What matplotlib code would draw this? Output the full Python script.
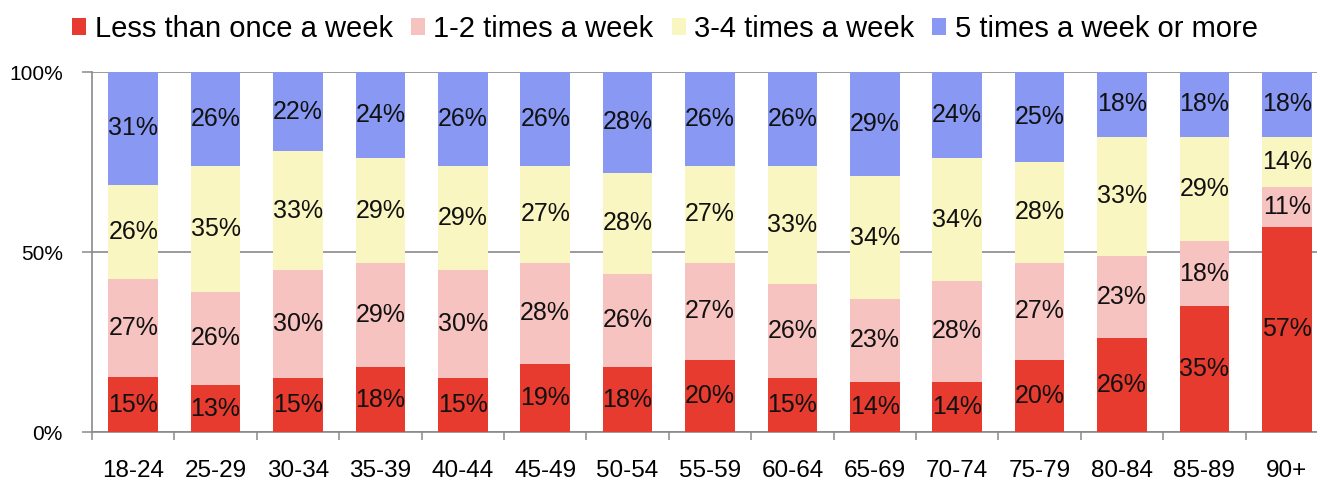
import numpy as np
import matplotlib
matplotlib.use('Agg')
import matplotlib.pyplot as plt
from matplotlib.ticker import FixedLocator

plt.rcParams['font.family'] = ['Liberation Sans', 'DejaVu Sans']

# Age bands and share of respondents in each frequency group (%).
age_groups = ['18-24', '25-29', '30-34', '35-39', '40-44', '45-49', '50-54', '55-59',
              '60-64', '65-69', '70-74', '75-79', '80-84', '85-89', '90+']
less_than_once = [15, 13, 15, 18, 15, 19, 18, 20, 15, 14, 14, 20, 26, 35, 57]
one_two = [27, 26, 30, 29, 30, 28, 26, 27, 26, 23, 28, 27, 23, 18, 11]
three_four = [26, 35, 33, 29, 29, 27, 28, 27, 33, 34, 34, 28, 33, 29, 14]
five_plus = [31, 26, 22, 24, 26, 26, 28, 26, 26, 29, 24, 25, 18, 18, 18]

series_names = ['Less than once a week', '1-2 times a week',
                '3-4 times a week', '5 times a week or more']
colors = ['#E63B2E', '#F7C3C0', '#FAF6C2', '#8898F3']

series = np.array([less_than_once, one_two, three_four, five_plus], dtype=float)
shares = series / series.sum(axis=0) * 100  # 100% stacked

fig = plt.figure(figsize=(13.17, 4.83), dpi=100)
W, H = 1317, 483
ax = fig.add_axes([92 / W, 51 / H, 1236 / W, 360 / H])

x = np.arange(len(age_groups))
bottom = np.zeros(len(age_groups))
bars = []
for vals, raw, name, col in zip(shares, series, series_names, colors):
    b = ax.bar(x, vals, width=0.6, bottom=bottom, color=col, label=name, zorder=3)
    bars.append(b)
    for xi, v, bt, r in zip(x, vals, bottom, raw):
        ax.text(xi, bt + v / 2, f'{int(r)}%', ha='center', va='center',
                fontsize=18, color='#111111', zorder=4)
    bottom += vals

ax.set_xlim(-0.5, len(age_groups) - 0.5)
ax.set_ylim(0, 100)

grey = '#8a8a8a'
ax.set_yticks([0, 50, 100])
ax.set_yticklabels(['0%', '50%', '100%'], fontsize=15)
ax.yaxis.grid(True, color=grey, linewidth=1.2, zorder=0)
ax.tick_params(axis='y', direction='out', length=7, width=1.1, color=grey, pad=14)

# boundary ticks on the major locator, category names on the minor one
ax.xaxis.set_major_locator(FixedLocator(np.arange(-0.5, len(age_groups), 1.0)))
ax.xaxis.set_minor_locator(FixedLocator(x))
ax.set_xticklabels([], minor=False)
ax.set_xticklabels(age_groups, minor=True, fontsize=17.5)
ax.tick_params(axis='x', which='major', direction='out', length=6, width=1.1, color=grey)
ax.tick_params(axis='x', which='minor', length=0, pad=20)

for side in ['top', 'right']:
    ax.spines[side].set_visible(False)
for side in ['left', 'bottom']:
    ax.spines[side].set_color(grey)
    ax.spines[side].set_linewidth(1.2)

fig.legend(handles=bars, labels=series_names, loc='center', ncol=4,
           bbox_to_anchor=(665 / W, 1 - 29 / H), frameon=False, fontsize=21,
           handlelength=0.48, handleheight=0.55, handletextpad=0.28,
           columnspacing=0.63, borderaxespad=0)

fig.savefig('out.png', dpi=100)
